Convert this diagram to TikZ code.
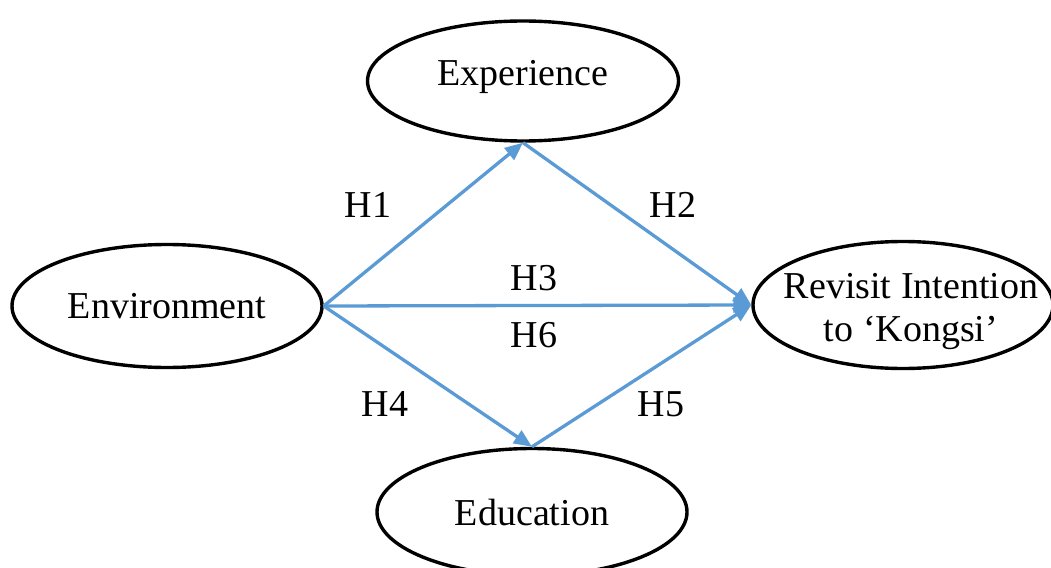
\documentclass[tikz,border=0pt]{standalone}
\usepackage{fontspec}
\setmainfont{Liberation Serif}
\usetikzlibrary{shapes.geometric,arrows.meta}
\definecolor{arrowblue}{RGB}{91,155,213}
\tikzset{
  oval/.style={draw=black, line width=3.4pt, ellipse, inner sep=0pt},
  ovaltext/.style={align=center, inner sep=0pt, font=\fontsize{38}{43}\selectfont},
  link/.style={draw=arrowblue, line width=3.3pt, -{Triangle[length=18pt,width=15pt]}},
  hlab/.style={font=\fontsize{38}{43}\selectfont, inner sep=0pt}
}
\begin{document}
\begin{tikzpicture}[x=1pt,y=-1pt]
\useasboundingbox (0,0) rectangle (1051,567);
\node[oval, minimum width=311pt, minimum height=120pt] (exp) at (523,81) {};
\node[ovaltext] (expt) at (523,77) {Experience};
\node[oval, minimum width=310pt, minimum height=123pt] (env) at (167,306) {};
\node[ovaltext] (envt) at (env.center) {Environment};
\node[oval, minimum width=300pt, minimum height=127pt] (rev) at (903,305) {};
\node[ovaltext] (revt) at (911,312) {Revisit Intention\\to ‘Kongsi’};
\node[oval, minimum width=310pt, minimum height=127pt] (edu) at (532,512) {};
\node[ovaltext] (edut) at (edu.center) {Education};
\draw[link] (env.east) -- (exp.south);
\draw[link] (exp.south) -- (rev.west);
\draw[link] (env.east) -- (rev.west);
\draw[link] (env.east) -- (edu.north);
\draw[link] (edu.north) -- (rev.west);
\node[hlab] (h1) at (368,205) {H1};
\node[hlab] (h2) at (673,205) {H2};
\node[hlab] (h3) at (534,278) {H3};
\node[hlab] (h6) at (534,335) {H6};
\node[hlab] (h4) at (385,404) {H4};
\node[hlab] (h5) at (661,404) {H5};
\end{tikzpicture}
\end{document}
